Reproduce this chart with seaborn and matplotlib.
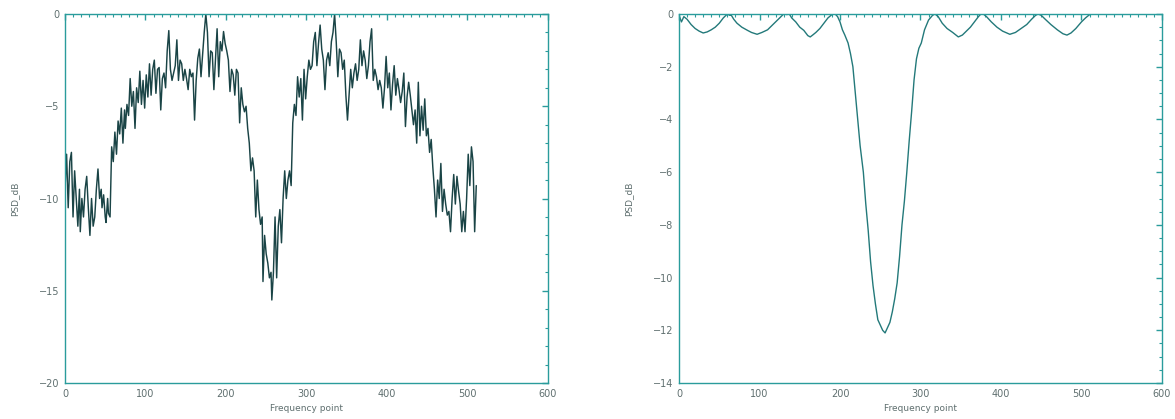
import numpy as np
import pandas as pd
import matplotlib
matplotlib.use("Agg")
import matplotlib.pyplot as plt
from matplotlib.ticker import MultipleLocator
import seaborn as sns

# left panel: noisy PSD
left_x = [0, 2, 4, 6, 8, 10, 12, 14, 16, 18, 19, 21, 23, 25, 27, 29, 31, 33, 35, 37,
          39, 41, 43, 45, 46, 48, 50, 51, 53, 54, 56, 58, 60, 62, 64, 66, 68, 70, 72, 74,
          75, 77, 79, 81, 83, 85, 87, 89, 91, 93, 95, 97, 99, 101, 103, 105, 107, 109, 111, 113,
          115, 117, 119, 121, 123, 125, 127, 129, 131, 133, 135, 137, 139, 141, 143, 145, 147, 149, 151, 153,
          155, 157, 159, 161, 163, 165, 167, 169, 171, 173, 175, 177, 179, 181, 183, 185, 187, 189, 191, 193,
          195, 197, 199, 201, 203, 205, 207, 209, 211, 213, 215, 217, 219, 221, 223, 225, 227, 229, 231, 233,
          235, 237, 239, 241, 243, 245, 246, 248, 250, 252, 254, 256, 257, 259, 261, 263, 265, 267, 269, 271,
          273, 275, 277, 279, 281, 283, 285, 287, 289, 291, 293, 295, 297, 299, 301, 303, 305, 307, 309, 311,
          313, 315, 317, 319, 321, 323, 325, 327, 329, 331, 333, 335, 337, 339, 341, 343, 345, 347, 349, 351,
          353, 355, 357, 359, 361, 363, 365, 367, 369, 371, 373, 375, 377, 379, 381, 383, 385, 387, 389, 391,
          393, 395, 397, 399, 401, 403, 405, 407, 409, 411, 413, 415, 417, 419, 421, 423, 425, 427, 429, 431,
          433, 435, 437, 439, 441, 443, 445, 447, 449, 451, 453, 455, 457, 459, 461, 463, 465, 467, 469, 471,
          473, 475, 477, 479, 481, 483, 485, 487, 489, 491, 493, 495, 497, 499, 501, 503, 505, 507, 509, 511]
left_y = [-9.5, -7.6, -10.5, -8.0, -7.5, -11.0, -8.5, -10.0, -11.5, -9.5, -11.8, -10.0, -11.0, -9.5, -8.8, -10.5, -12.0, -10.0, -11.5, -11.0,
          -9.5, -8.4, -10.0, -9.5, -10.5, -9.8, -11.0, -11.3, -10.0, -10.8, -11.0, -7.2, -8.0, -6.4, -7.6, -5.8, -6.5, -5.1, -7.0, -5.2,
          -6.2, -4.9, -5.5, -3.5, -5.0, -4.2, -6.2, -4.0, -4.8, -3.1, -4.9, -3.6, -5.1, -3.3, -4.5, -2.7, -4.4, -3.0, -2.5, -4.3,
          -3.0, -2.9, -5.2, -3.5, -3.2, -4.0, -2.0, -0.9, -3.0, -3.6, -3.2, -2.8, -1.4, -3.6, -2.5, -2.7, -3.6, -3.0, -3.5, -4.1,
          -3.0, -3.4, -3.2, -5.75, -3.6, -2.4, -1.9, -3.4, -2.2, -1.0, 0.0, -1.0, -3.4, -2.0, -2.1, -4.1, -2.5, -0.8, -3.4, -1.5,
          -2.0, -0.95, -1.6, -2.0, -2.5, -4.2, -3.0, -3.3, -4.4, -3.0, -3.2, -5.9, -4.0, -4.9, -5.3, -5.0, -6.2, -7.0, -8.5, -7.8,
          -8.5, -11.0, -9.0, -10.6, -11.4, -11.0, -14.5, -12.0, -13.0, -13.5, -14.3, -14.0, -15.5, -14.0, -11.0, -14.3, -11.5, -10.6, -12.4, -10.0,
          -8.5, -10.0, -9.0, -8.5, -9.3, -5.9, -4.9, -5.5, -3.4, -4.5, -3.5, -5.75, -3.0, -4.6, -3.4, -2.5, -3.0, -2.8, -1.5, -1.0,
          -2.8, -1.6, -0.6, -1.9, -2.5, -4.1, -2.5, -2.1, -2.8, -1.5, -1.0, 0.0, -1.5, -3.4, -1.9, -2.1, -3.0, -2.5, -4.4, -5.75,
          -4.4, -3.0, -4.0, -3.2, -2.7, -3.6, -3.0, -1.4, -2.8, -2.0, -2.5, -3.5, -2.8, -1.5, -0.8, -3.6, -3.0, -3.4, -4.1, -3.6,
          -4.0, -5.1, -4.0, -2.3, -4.0, -3.2, -5.2, -3.8, -2.8, -4.4, -3.5, -4.1, -4.8, -4.2, -3.2, -6.1, -4.5, -3.7, -4.4, -5.2,
          -6.0, -5.2, -7.0, -3.7, -6.6, -5.0, -6.3, -4.6, -6.6, -6.2, -7.5, -6.8, -8.3, -9.5, -11.0, -9.0, -10.0, -8.1, -10.7, -9.5,
          -10.3, -10.9, -10.7, -11.8, -10.0, -8.7, -10.3, -8.8, -9.6, -10.3, -11.8, -10.7, -11.8, -10.0, -7.6, -9.3, -7.2, -8.0, -11.8, -9.3]

# right panel: smoothed PSD with ripple
right_x = [0, 3, 6, 10, 15, 20, 25, 30, 35, 40, 45, 50, 55, 60, 63, 65, 68, 72, 78, 85,
           90, 97, 103, 110, 115, 120, 125, 130, 134, 137, 140, 145, 150, 155, 160, 163, 166, 170, 175, 180,
           185, 190, 194, 197, 200, 203, 206, 210, 213, 216, 219, 222, 225, 229, 232, 235, 238, 241, 244, 247,
           250, 253, 256, 259, 262, 265, 268, 271, 274, 277, 280, 283, 286, 289, 292, 295, 298, 301, 305, 310,
           315, 318, 322, 327, 333, 340, 347, 352, 357, 362, 367, 372, 375, 378, 382, 388, 395, 402, 411, 418,
           425, 432, 438, 443, 446, 450, 455, 462, 470, 477, 482, 487, 493, 500, 505, 511]
right_y = [-0.05, -0.3, -0.1, -0.2, -0.4, -0.55, -0.65, -0.72, -0.68, -0.6, -0.5, -0.35, -0.15, 0.0, -0.05, -0.05, -0.2, -0.35, -0.5, -0.62,
           -0.7, -0.77, -0.7, -0.6, -0.45, -0.3, -0.15, 0.0, -0.02, 0.0, -0.15, -0.3, -0.5, -0.62, -0.82, -0.87, -0.8, -0.7, -0.55, -0.35,
           -0.15, -0.02, 0.0, -0.1, -0.3, -0.6, -0.8, -1.1, -1.5, -2.0, -3.0, -4.0, -5.0, -6.0, -7.2, -8.2, -9.4, -10.3, -11.0, -11.6,
           -11.8, -12.0, -12.1, -11.9, -11.7, -11.3, -10.8, -10.2, -9.2, -8.0, -7.1, -6.0, -4.8, -3.7, -2.5, -1.7, -1.3, -1.1, -0.6, -0.23,
           -0.05, 0.0, -0.1, -0.35, -0.55, -0.7, -0.87, -0.8, -0.65, -0.5, -0.3, -0.1, 0.0, 0.0, -0.1, -0.3, -0.5, -0.65, -0.77, -0.7,
           -0.55, -0.4, -0.2, -0.05, 0.0, -0.05, -0.2, -0.4, -0.6, -0.75, -0.8, -0.72, -0.55, -0.3, -0.15, 0.0]

axis_color = "#2a9c9c"
text_color = "#5f6f6f"

sns.set_style("white")
plt.rcParams["font.family"] = ["DejaVu Sans"]

fig = plt.figure(figsize=(11.75, 4.19), dpi=100)
ax1 = fig.add_axes([0.0553, 0.0859, 0.411, 0.8807])
ax2 = fig.add_axes([0.5779, 0.0859, 0.411, 0.8807])

left_df = pd.DataFrame({"x": left_x, "y": left_y})
right_df = pd.DataFrame({"x": right_x, "y": right_y})

sns.lineplot(data=left_df, x="x", y="y", ax=ax1, estimator=None, sort=False,
             color="#1a4446", linewidth=1.05)
sns.lineplot(data=right_df, x="x", y="y", ax=ax2, estimator=None, sort=False,
             color="#23797a", linewidth=1.0)

panels = [(ax1, -20, 5, 1), (ax2, -14, 2, 0.5)]
for ax, ymin, ymaj, ymin_step in panels:
    ax.set_xlim(0, 600)
    ax.set_ylim(ymin, 0)
    ax.xaxis.set_major_locator(MultipleLocator(100))
    ax.xaxis.set_minor_locator(MultipleLocator(10))
    ax.yaxis.set_major_locator(MultipleLocator(ymaj))
    ax.yaxis.set_minor_locator(MultipleLocator(ymin_step))
    ax.tick_params(which="both", direction="in", top=True, right=True,
                   color=axis_color, labelcolor=text_color, labelsize=7, pad=4)
    ax.tick_params(which="major", length=4, width=1)
    ax.tick_params(which="minor", length=2, width=0.8)
    for s in ax.spines.values():
        s.set_color(axis_color)
        s.set_linewidth(1.0)
    ax.set_xlabel("Frequency point", fontsize=6.5, color=text_color, labelpad=4)
    ax.set_ylabel("PSD_dB", fontsize=6.5, color=text_color, labelpad=14)
    ax.grid(False)

fig.savefig("out.png", dpi=100, facecolor="white")
